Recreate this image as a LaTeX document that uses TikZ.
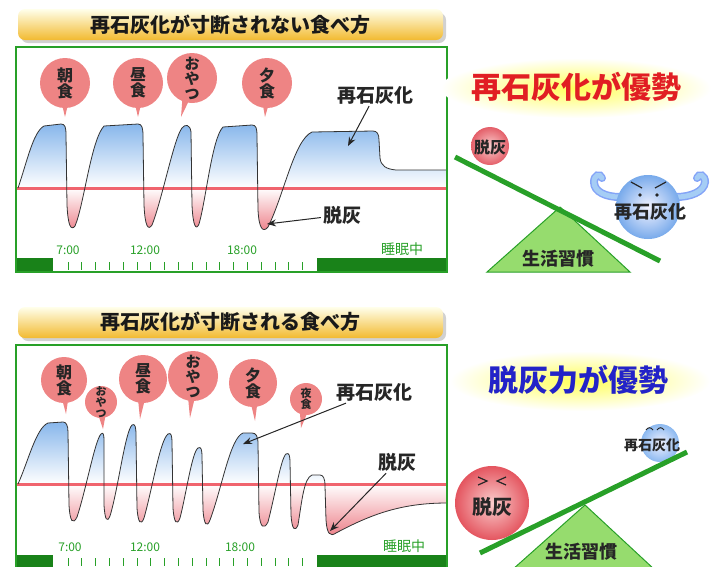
\documentclass[tikz,border=0pt]{standalone}
\usepackage{fontspec}
\setmainfont{Noto Sans CJK JP}[BoldFont={Noto Sans CJK JP Black}]
\usetikzlibrary{arrows.meta}

\definecolor{chartgreen}{RGB}{40,160,40}
\definecolor{bargreen}{RGB}{25,130,25}
\definecolor{linered}{RGB}{240,100,110}
\definecolor{balloonpink}{RGB}{238,132,132}
\definecolor{calcblue}{RGB}{128,178,234}
\definecolor{decalpink}{RGB}{236,118,128}
\definecolor{headred}{RGB}{225,30,35}
\definecolor{headblue}{RGB}{35,35,200}
\definecolor{leafgreen}{RGB}{150,220,110}
\definecolor{armblue}{RGB}{165,205,245}

\tikzset{
  chartbox/.style={draw=chartgreen, line width=2.5pt},
  zeroline/.style={draw=linered, line width=3pt},
  level/.style={draw=black!80, line width=0.8pt},
  balloon/.style={fill=balloonpink},
  meal/.style={text=black!85, font=\bfseries\fontsize{16}{17}\selectfont, align=center, inner sep=0pt},
  callout/.style={text=black!85, font=\bfseries\fontsize{19}{19}\selectfont, inner sep=2pt},
  pointer/.style={draw=black!85, line width=1pt, -{Stealth[length=9pt,width=7pt]}},
  clock/.style={text=chartgreen, font=\fontsize{12}{12}\selectfont},
  tick/.style={draw=chartgreen, line width=1pt},
  banner/.style={top color=yellow!8, bottom color={rgb,255:red,242;green,186;blue,48}, rounded corners=7pt},
  title/.style={text=black!90, font=\bfseries\fontsize{20}{20}\selectfont},
  headline/.style={font=\bfseries\fontsize{30}{30}\selectfont},
  beam/.style={draw=chartgreen, line width=5pt},
  fulcrum/.style={fill=leafgreen, draw=chartgreen, line width=1pt},
  habit/.style={text=black!85, font=\bfseries\fontsize{18}{18}\selectfont},
  balltext/.style={text=black!85, font=\bfseries\fontsize{18}{18}\selectfont},
}

% remineralisation curves (pixel units, y downwards)
\newcommand\steadycurve{(18,188)
  .. controls (27,162) and (33,132) .. (44,126) -- (61,124)
  .. controls (65,124) and (66,127) .. (66,135) -- (67,205)
  .. controls (68,226) and (71,231) .. (75,226)
  .. controls (84,205) and (91,140) .. (104,126) -- (138,124)
  .. controls (142,124) and (143,128) .. (143,136) -- (144,205)
  .. controls (145,226) and (148,231) .. (152,225)
  .. controls (162,200) and (174,138) .. (182,128)
  .. controls (185,124) and (190,124) .. (191,132) -- (192,205)
  .. controls (193,226) and (196,231) .. (199,224)
  .. controls (206,200) and (212,138) .. (223,127) -- (252,125)
  .. controls (256,125) and (257,128) .. (257,136) -- (258,210)
  .. controls (259,229) and (263,233) .. (268,227)
  .. controls (284,195) and (294,140) .. (312,132) -- (373,131)
  .. controls (377,131) and (379,134) .. (379,140) -- (380,158)
  .. controls (381,166) and (386,169) .. (396,170) -- (447,170)}

\newcommand\brokencurve{(18,484)
  .. controls (28,462) and (36,428) .. (48,423) -- (63,422)
  .. controls (66,422) and (68,425) .. (68,432) -- (69,505)
  .. controls (70,522) and (73,525) .. (77,517)
  .. controls (86,490) and (95,440) .. (101,434)
  .. controls (103,432) and (104,434) .. (104,440) -- (104,505)
  .. controls (105,520) and (107,523) .. (110,516)
  .. controls (118,490) and (125,432) .. (132,425)
  .. controls (135,423) and (136,427) .. (136,435) -- (137,508)
  .. controls (138,523) and (141,526) .. (144,518)
  .. controls (152,490) and (160,440) .. (168,434)
  .. controls (171,432) and (172,436) .. (172,442) -- (173,508)
  .. controls (174,523) and (177,526) .. (180,518)
  .. controls (186,495) and (192,452) .. (198,448)
  .. controls (201,446) and (202,450) .. (202,456) -- (203,510)
  .. controls (204,525) and (207,528) .. (210,520)
  .. controls (222,488) and (230,438) .. (243,433) -- (252,433)
  .. controls (256,433) and (258,436) .. (258,444) -- (259,512)
  .. controls (260,528) and (264,530) .. (268,522)
  .. controls (275,495) and (281,458) .. (286,454)
  .. controls (289,452) and (290,456) .. (290,462) -- (291,515)
  .. controls (292,530) and (295,532) .. (298,525)
  .. controls (302,500) and (304,478) .. (312,475) -- (320,475)
  .. controls (323,475) and (325,478) .. (325,486) -- (326,520)
  .. controls (327,534) and (330,537) .. (336,533)
  .. controls (370,515) and (400,503) .. (447,503)}

\begin{document}
\begin{tikzpicture}[x=1pt, y=-1pt]
\useasboundingbox (0,0) rectangle (719,566);
\clip (0,0) rectangle (719,566);

%%% upper chart
\fill[black!18, rounded corners=7pt] (21,13) rectangle (446,43);
\shade[banner] (18,9) rectangle (443,40);
\node[title] (title-top) at (230,25) {再石灰化が寸断されない食べ方};

\begin{scope}
\clip \steadycurve -- (447,188) -- cycle;
\shade[top color=calcblue, bottom color=white] (16,120) rectangle (447,188);
\shade[top color=white, bottom color=decalpink] (16,188) rectangle (447,235);
\end{scope}
\draw[zeroline] (16,188) -- (447,188);
\draw[level] \steadycurve;

% time axis
\fill[bargreen] (16,258) rectangle (53,272);
\fill[bargreen] (317,258) rectangle (447,272);
\foreach \i in {0,1,...,17} {
\draw[tick] (68+13.8*\i,262) -- (68+13.8*\i,270);
}
\draw[chartbox] (16,47) rectangle (447,272);
\foreach \t/\x in {7:00/68,12:00/145,18:00/242} {
\node[clock] (clock-top-\x) at (\x,250) {\t};
}
\node[clock, font=\fontsize{14}{14}\selectfont] (sleep-top) at (402,249) {睡眠中};

% meals
\foreach \bx/\by/\br/\tipx/\tipy/\fs/\txt in {65/83/25/65/117/16/{朝\\食}, 138/83/25/138/117/16/{昼\\食}, 192/78/25/181/117/15/{お\\や\\つ}, 267/83/25/265/117/16/{夕\\食}} {
\fill[balloon] (\bx-8,\by) -- (\tipx,\tipy) -- (\bx+8,\by) -- cycle;
\fill[balloon] (\bx,\by) circle (\br);
\node[meal, font=\bfseries\fontsize{\fs}{\fs}\selectfont] (meal-top-\bx) at (\bx,\by) {\txt};
}

\node[callout] (remin-top) at (375,95) {再石灰化};
\coordinate (remin-top-tip) at (348,146);
\draw[pointer] (remin-top) -- (remin-top-tip);
\node[callout] (demin-top) at (342,215) {脱灰};
\coordinate (demin-top-tip) at (267,224);
\draw[pointer] (demin-top) -- (demin-top-tip);

%%% upper seesaw
\shade[inner color=yellow!65, outer color=white] (576,88) ellipse (135 and 30);
\node[headline, text=headred] (head-top) at (576,87) {再石灰化が優勢};
\filldraw[fulcrum] (560,207) -- (487,272) -- (630,272) -- cycle;
\node[habit] (habit-top) at (558,259) {生活習慣};
% flexing arms
\draw[armblue!80!blue, line width=8pt, line cap=round] (620,197) .. controls (606,197) and (594,192) .. (594,182) .. controls (594,175) and (600,173) .. (602,178);
\draw[armblue, line width=5pt, line cap=round] (620,197) .. controls (606,197) and (594,192) .. (594,182) .. controls (594,175) and (600,173) .. (602,178);
\draw[armblue!80!blue, line width=8pt, line cap=round] (676,197) .. controls (690,197) and (704,192) .. (705,182) .. controls (705,175) and (699,173) .. (697,178);
\draw[armblue, line width=5pt, line cap=round] (676,197) .. controls (690,197) and (704,192) .. (705,182) .. controls (705,175) and (699,173) .. (697,178);
\shade[inner color=blue!5, outer color={rgb,255:red,120;green,170;blue,235}] (648,207) circle (32);
\draw[black!85, line width=1.2pt] (631,182) -- (642,188) (666,182) -- (655,188);
\fill[black!85] (640,195) circle (1.8) (657,195) circle (1.8);
\node[balltext] (remin-ball-top) at (650,212) {再石灰化};
\shade[inner color={rgb,255:red,250;green,205;blue,205}, outer color={rgb,255:red,228;green,95;blue,105}] (490,146) circle (19);
\node[balltext, font=\bfseries\fontsize{16}{16}\selectfont] (demin-ball-top) at (490,147) {脱灰};
\draw[beam] (455,157) -- (660,261);

%%% lower chart
\fill[black!18, rounded corners=7pt] (21,311) rectangle (446,341);
\shade[banner] (18,307) rectangle (443,338);
\node[title] (title-bottom) at (230,322) {再石灰化が寸断される食べ方};

\begin{scope}
\clip \brokencurve -- (447,484) -- cycle;
\shade[top color=calcblue, bottom color=white] (16,418) rectangle (447,484);
\shade[top color=white, bottom color=decalpink] (16,484) rectangle (447,540);
\end{scope}
\draw[zeroline] (16,484) -- (447,484);
\draw[level] \brokencurve;

% time axis
\fill[bargreen] (16,555) rectangle (53,570);
\fill[bargreen] (317,555) rectangle (447,570);
\foreach \i in {0,1,...,17} {
\draw[tick] (68+13.8*\i,558) -- (68+13.8*\i,566);
}
\draw[chartbox] (16,345) rectangle (447,570);
\foreach \t/\x in {7:00/70,12:00/145,18:00/240} {
\node[clock] (clock-bottom-\x) at (\x,547) {\t};
}
\node[clock, font=\fontsize{14}{14}\selectfont] (sleep-bottom) at (404,546) {睡眠中};

% meals and snacks
\foreach \bx/\by/\br/\tipx/\tipy/\fs/\txt in {64/380/23/66/414/16/{朝\\食}, 143/379/24/140/419/16/{昼\\食}, 193/376/25/190/418/15/{お\\や\\つ}, 253/383/24/255/421/16/{夕\\食}, 101/402/16/103/429/11/{お\\や\\つ}, 306/399/16/301/428/11/{夜\\食}} {
\fill[balloon] (\bx-7,\by) -- (\tipx,\tipy) -- (\bx+7,\by) -- cycle;
\fill[balloon] (\bx,\by) circle (\br);
\node[meal, font=\bfseries\fontsize{\fs}{\fs}\selectfont] (meal-bottom-\bx) at (\bx,\by) {\txt};
}

\node[callout] (remin-bottom) at (374,392) {再石灰化};
\coordinate (remin-bottom-tip) at (243,444);
\draw[pointer] (remin-bottom) -- (remin-bottom-tip);
\node[callout] (demin-bottom) at (397,462) {脱灰};
\coordinate (demin-bottom-tip) at (330,531);
\draw[pointer] (demin-bottom) -- (demin-bottom-tip);

%%% lower seesaw
\shade[inner color=yellow!65, outer color=white] (580,381) ellipse (130 and 30);
\node[headline, text=headblue] (head-bottom) at (578,380) {脱灰力が優勢};
\filldraw[fulcrum] (585,505) -- (512,570) -- (655,570) -- cycle;
\node[habit] (habit-bottom) at (581,552) {生活習慣};
\shade[inner color=blue!5, outer color={rgb,255:red,140;green,185;blue,240}] (660,443) circle (19);
\draw[black!85, line width=1pt] (646,430) .. controls (648,427) and (651,427) .. (653,430) (657,430) .. controls (659,427) and (662,427) .. (664,430);
\node[balltext, font=\bfseries\fontsize{14}{14}\selectfont] (remin-ball-bottom) at (652,445) {再石灰化};
\shade[inner color={rgb,255:red,250;green,205;blue,205}, outer color={rgb,255:red,228;green,85;blue,95}] (492,503) circle (37);
\draw[black!85, line width=1.2pt] (478,477) -- (487,481) -- (478,485) (506,477) -- (497,481) -- (506,485);
\node[balltext, font=\bfseries\fontsize{20}{20}\selectfont] (demin-ball-bottom) at (492,507) {脱灰};
\draw[beam] (480,553) -- (687,452);

\end{tikzpicture}
\end{document}
